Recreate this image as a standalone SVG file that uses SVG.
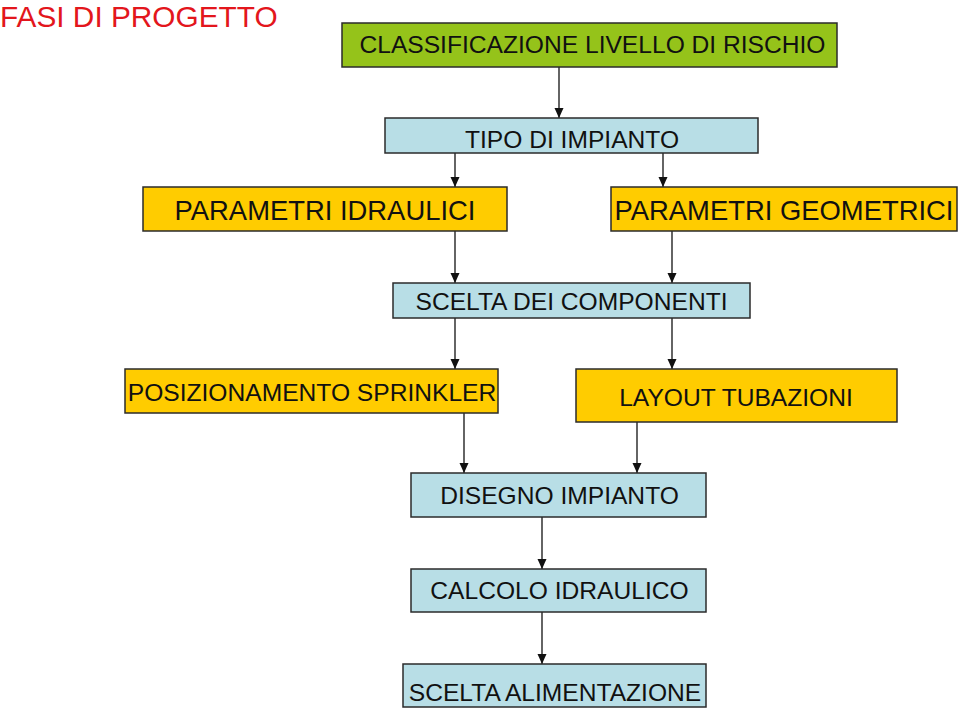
<svg xmlns="http://www.w3.org/2000/svg" width="960" height="719" viewBox="0 0 960 719">
<style>
.box{stroke:#2b2b2b;stroke-width:1.5}
.g{fill:#95C31A}
.b{fill:#B8DEE6}
.y{fill:#FFCC00}
text{font-family:"Liberation Sans",Arial,sans-serif;fill:#111;text-anchor:middle}
.t24{font-size:24.6px}
.t27{font-size:27.4px}
.con{stroke:#111;stroke-width:1.3;fill:none;marker-end:url(#ah)}
</style>
<defs>
<marker id="ah" markerUnits="userSpaceOnUse" markerWidth="10" markerHeight="10" refX="10" refY="5" orient="auto" viewBox="0 0 10 10">
<path d="M0,0.5 L10,5 L0,9.5 Z" fill="#111"/>
</marker>
</defs>
<rect width="960" height="719" fill="#fff"/>
<text x="0" y="27" style="font-size:29.8px;fill:#E3161C;text-anchor:start">FASI DI PROGETTO</text>
<g id="connectors">
<line class="con" x1="559" y1="67" x2="559" y2="118"/>
<line class="con" x1="455" y1="153" x2="455" y2="187"/>
<line class="con" x1="663" y1="153" x2="663" y2="187"/>
<line class="con" x1="455" y1="231" x2="455" y2="283"/>
<line class="con" x1="672" y1="231" x2="672" y2="283"/>
<line class="con" x1="455" y1="318" x2="455" y2="369"/>
<line class="con" x1="672" y1="318" x2="672" y2="369"/>
<line class="con" x1="464" y1="413" x2="464" y2="473"/>
<line class="con" x1="637" y1="422" x2="637" y2="473"/>
<line class="con" x1="542" y1="517" x2="542" y2="569"/>
<line class="con" x1="542" y1="612" x2="542" y2="664"/>
</g>
<g id="classificazione">
<rect class="box g" x="342" y="23" width="495" height="44"/>
<text class="t24" x="592.5" y="53">CLASSIFICAZIONE LIVELLO DI RISCHIO</text>
</g>
<g id="tipo">
<rect class="box b" x="385" y="118" width="373" height="35"/>
<text class="t24" x="572" y="148">TIPO DI IMPIANTO</text>
</g>
<g id="param-idraulici">
<rect class="box y" x="143" y="187" width="364" height="44"/>
<text class="t27" x="325" y="220">PARAMETRI IDRAULICI</text>
</g>
<g id="param-geometrici">
<rect class="box y" x="611" y="187" width="346" height="44"/>
<text class="t27" x="784" y="220">PARAMETRI GEOMETRICI</text>
</g>
<g id="scelta-componenti">
<rect class="box b" x="393" y="283" width="357" height="35"/>
<text class="t24" x="571.5" y="310">SCELTA DEI COMPONENTI</text>
</g>
<g id="posizionamento">
<rect class="box y" x="125" y="369" width="373" height="44"/>
<text class="t24" x="312" y="401">POSIZIONAMENTO SPRINKLER</text>
</g>
<g id="layout">
<rect class="box y" x="576" y="369" width="321" height="53"/>
<text class="t24" x="736" y="406">LAYOUT TUBAZIONI</text>
</g>
<g id="disegno">
<rect class="box b" x="411" y="473" width="295" height="44"/>
<text class="t24" x="559.5" y="504">DISEGNO IMPIANTO</text>
</g>
<g id="calcolo">
<rect class="box b" x="411" y="569" width="295" height="43"/>
<text class="t24" x="559.5" y="599">CALCOLO IDRAULICO</text>
</g>
<g id="alimentazione">
<rect class="box b" x="403" y="664" width="303" height="43"/>
<text class="t24" x="555" y="701">SCELTA ALIMENTAZIONE</text>
</g>
</svg>
